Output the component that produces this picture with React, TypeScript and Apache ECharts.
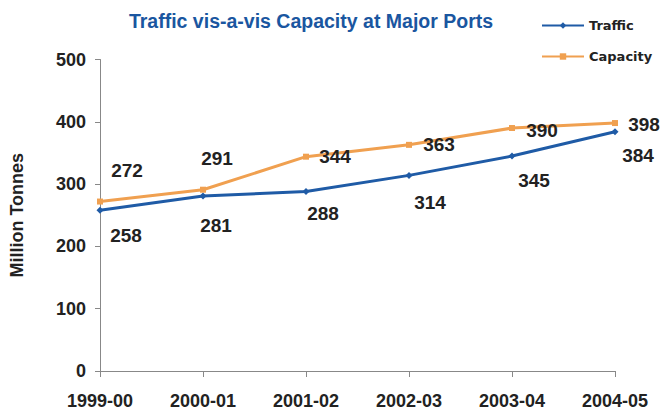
import React, { useEffect, useRef } from "react";
import * as echarts from "echarts";

const categories = ["1999-00", "2000-01", "2001-02", "2002-03", "2003-04", "2004-05"];
const traffic = [258, 281, 288, 314, 345, 384];
const capacity = [272, 291, 344, 363, 390, 398];
const yTicks = { min: 0, max: 500, interval: 100 };

const trafficLabelOffsets = [[26, 25], [13, 30], [17, 22], [21, 27], [22, 24], [23, 24]];
const capacityLabelOffsets = [[27, -31], [14, -31], [29, 0], [30, 0], [30, 2], [29, 1]];

const FONT = "'Liberation Sans', Arial, sans-serif";
const BLUE = "#1f5ba6";
const ORANGE = "#f0a050";

export default function App() {
  const ref = useRef<HTMLDivElement>(null);
  useEffect(() => {
    if (!ref.current) return;
    const chart = echarts.init(ref.current, undefined, { renderer: "svg" });
    const labelStyle = {
      show: true,
      position: "inside" as const,
      color: "#222",
      fontFamily: FONT,
      fontWeight: "bold" as const,
      fontSize: 19,
    };
    chart.setOption({
      animation: false,
      backgroundColor: "#fff",
      title: {
        text: "Traffic vis-a-vis Capacity at Major Ports",
        left: 306,
        textAlign: "center",
        top: 6,
        textStyle: { color: "#1a56a0", fontFamily: FONT, fontWeight: "bold", fontSize: 19.5 },
      },
      legend: {
        orient: "vertical",
        left: 536,
        top: 14,
        itemWidth: 42,
        itemHeight: 8,
        itemGap: 18,
        textStyle: { color: "#222", fontFamily: "'DejaVu Sans', sans-serif", fontWeight: "bold", fontSize: 13 },
        data: ["Traffic", "Capacity"],
      },
      grid: { left: 92, right: 52, top: 59.5, bottom: 42, containLabel: false },
      xAxis: {
        type: "category",
        data: categories,
        boundaryGap: false,
        axisLine: { lineStyle: { color: "#888", width: 1 } },
        axisTick: { show: true, length: 6, lineStyle: { color: "#888" } },
        axisLabel: { color: "#222", fontFamily: FONT, fontWeight: "bold", fontSize: 18, margin: 21 },
      },
      yAxis: {
        type: "value",
        min: yTicks.min,
        max: yTicks.max,
        interval: yTicks.interval,
        name: "Million Tonnes",
        nameLocation: "middle",
        nameRotate: 90,
        nameGap: 74,
        nameTextStyle: { color: "#222", fontFamily: FONT, fontWeight: "bold", fontSize: 18 },
        axisLine: { show: true, lineStyle: { color: "#888", width: 1 } },
        axisTick: { show: true, length: 5, lineStyle: { color: "#888" } },
        splitLine: { show: false },
        axisLabel: { color: "#222", fontFamily: FONT, fontWeight: "bold", fontSize: 18, margin: 14 },
      },
      series: [
        {
          name: "Traffic",
          type: "line",
          symbol: "diamond",
          symbolSize: 7,
          color: BLUE,
          lineStyle: { width: 3, color: BLUE },
          itemStyle: { color: BLUE },
          data: traffic.map((v, i) => ({ value: v, label: { ...labelStyle, offset: trafficLabelOffsets[i] } })),
        },
        {
          name: "Capacity",
          type: "line",
          symbol: "rect",
          symbolSize: 6,
          color: ORANGE,
          lineStyle: { width: 3, color: ORANGE },
          itemStyle: { color: ORANGE },
          data: capacity.map((v, i) => ({ value: v, label: { ...labelStyle, offset: capacityLabelOffsets[i] } })),
        },
      ],
    });
    return () => chart.dispose();
  }, []);
  return <div ref={ref} style={{ position: "fixed", left: 0, top: 0, width: 667, height: 413 }} />;
}
